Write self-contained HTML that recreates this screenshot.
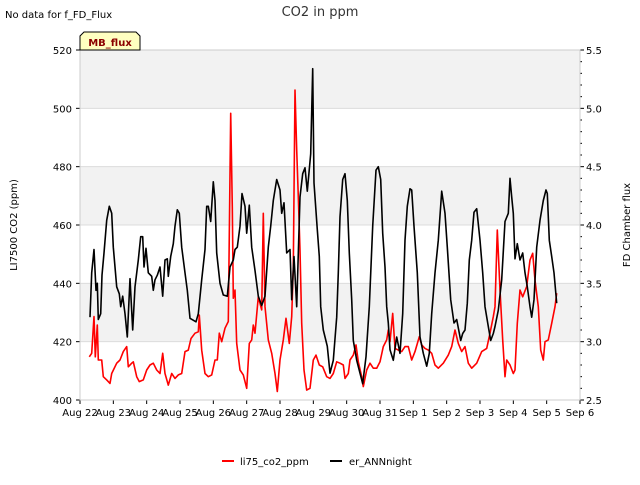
<!DOCTYPE html>
<html><head><meta charset="utf-8"><style>
body{margin:0;background:#fff;font-family:"Liberation Sans","DejaVu Sans",sans-serif}
svg text{font-family:"DejaVu Sans","Liberation Sans",sans-serif}
</style></head><body>
<svg id="chart" width="640" height="480" viewBox="0 0 640 480" xmlns="http://www.w3.org/2000/svg">
<text x="5" y="18" font-size="10">No data for f_FD_Flux</text>
<text x="320" y="16" font-size="13" fill="#333" text-anchor="middle">CO2 in ppm</text>
<g id="bands"></g>
<g id="axes"></g>
<g id="series"></g>
<g>
<path d="M80,50 L80,36 L84,32 L136,32 L140,36 L140,50 Z" fill="#ffffc0" stroke="#000" stroke-width="1"/>
<text x="110" y="46" font-size="10" font-weight="bold" fill="#8b0000" text-anchor="middle">MB_flux</text>
</g>
<text transform="translate(17,225) rotate(-90)" font-size="10" text-anchor="middle">LI7500 CO2 (ppm)</text>
<text transform="translate(630,225) rotate(-90)" font-size="10" text-anchor="middle">FD Chamber flux</text>
<g>
<g><line x1="222" y1="461" x2="234" y2="461" stroke="#f00" stroke-width="2"/><text x="240" y="465" font-size="10">li75_co2_ppm</text></g>
<g><line x1="330" y1="461" x2="342" y2="461" stroke="#000" stroke-width="2"/><text x="349" y="465" font-size="10">er_ANNnight</text></g>
</g>
</svg>
<script>
const xTickLabels=["Aug 22","Aug 23","Aug 24","Aug 25","Aug 26","Aug 27","Aug 28","Aug 29","Aug 30","Aug 31","Sep 1","Sep 2","Sep 3","Sep 4","Sep 5","Sep 6"];
const leftTicks=[400,420,440,460,480,500,520];
const rightTicks=[2.5,3.0,3.5,4.0,4.5,5.0,5.5];
const redDays=[0.28,0.35,0.42,0.46,0.52,0.55,0.65,0.70,0.80,0.90,0.95,1.10,1.20,1.30,1.40,1.45,1.55,1.60,1.70,1.78,1.90,2.00,2.10,2.20,2.30,2.40,2.48,2.55,2.65,2.75,2.85,2.95,3.05,3.15,3.25,3.33,3.45,3.55,3.58,3.65,3.75,3.85,3.95,4.05,4.12,4.18,4.25,4.35,4.45,4.52,4.57,4.60,4.65,4.70,4.80,4.90,5.00,5.08,5.15,5.20,5.25,5.35,5.45,5.50,5.55,5.65,5.75,5.85,5.92,6.00,6.10,6.18,6.28,6.35,6.40,6.45,6.50,6.55,6.60,6.65,6.72,6.80,6.90,7.00,7.08,7.18,7.28,7.40,7.50,7.60,7.70,7.80,7.90,7.95,8.05,8.10,8.20,8.28,8.35,8.45,8.50,8.60,8.70,8.80,8.90,9.00,9.10,9.20,9.25,9.30,9.38,9.45,9.55,9.65,9.75,9.85,9.95,10.05,10.18,10.25,10.35,10.45,10.55,10.65,10.75,10.90,11.05,11.15,11.25,11.35,11.45,11.55,11.65,11.75,11.90,12.05,12.20,12.30,12.40,12.45,12.52,12.60,12.68,12.75,12.80,12.90,13.00,13.05,13.12,13.20,13.28,13.40,13.50,13.58,13.65,13.75,13.82,13.90,13.95,14.05,14.15,14.25,14.30];
const redValues=[414.8,416.0,428.6,414.8,425.7,413.7,413.7,408.0,406.9,405.7,409.1,412.6,413.7,416.6,418.3,411.4,412.6,413.1,408.0,406.3,406.9,410.3,412.0,412.6,410.3,409.1,416.0,409.1,405.1,409.1,407.4,408.6,409.1,416.6,417.1,421.1,422.9,423.4,429.1,417.1,409.1,408.0,408.6,413.7,413.7,422.9,420.0,424.6,426.9,498.3,466.3,434.9,437.7,419.4,410.3,408.6,404.0,419.4,420.6,425.7,422.9,435.4,430.9,464.0,432.0,420.6,416.0,409.1,402.9,413.7,420.6,428.0,419.4,428.6,445.7,506.3,485.7,469.7,451.4,426.3,410.3,403.4,404.0,413.7,415.4,412.0,411.4,408.0,407.4,409.1,413.1,412.6,412.0,407.4,409.1,413.7,415.4,418.9,413.1,408.0,404.6,410.3,412.6,410.9,410.9,413.1,418.3,420.6,424.0,420.0,429.7,417.7,417.1,416.6,418.3,418.3,413.7,416.6,421.7,418.9,417.7,417.1,416.0,412.0,410.9,412.6,415.4,418.3,424.0,419.4,416.6,418.3,412.6,410.9,412.6,416.6,417.7,422.9,428.6,432.0,458.3,437.7,420.6,408.0,413.7,412.0,409.1,410.3,426.3,437.7,435.4,438.9,448.0,450.3,441.1,432.0,417.1,413.7,420.0,420.6,426.3,432.0,436.6];
const blackDays=[0.30,0.35,0.42,0.48,0.52,0.55,0.62,0.66,0.72,0.80,0.88,0.95,1.00,1.10,1.18,1.22,1.28,1.35,1.42,1.50,1.58,1.65,1.75,1.82,1.88,1.92,1.98,2.05,2.15,2.20,2.25,2.32,2.40,2.48,2.55,2.62,2.65,2.72,2.80,2.85,2.92,2.98,3.05,3.15,3.22,3.30,3.48,3.55,3.65,3.75,3.80,3.85,3.92,4.00,4.05,4.10,4.20,4.30,4.42,4.50,4.60,4.65,4.72,4.80,4.86,4.95,5.00,5.08,5.15,5.25,5.35,5.45,5.55,5.65,5.72,5.80,5.90,6.00,6.05,6.12,6.20,6.30,6.35,6.42,6.50,6.60,6.68,6.75,6.82,6.92,6.98,7.02,7.12,7.18,7.22,7.30,7.42,7.50,7.60,7.70,7.75,7.80,7.88,7.95,8.02,8.08,8.15,8.20,8.30,8.40,8.48,8.58,8.68,8.78,8.88,8.95,9.02,9.08,9.15,9.20,9.25,9.30,9.40,9.50,9.60,9.68,9.75,9.82,9.90,9.95,10.02,10.12,10.20,10.30,10.40,10.48,10.55,10.65,10.75,10.85,10.95,11.02,11.12,11.22,11.30,11.42,11.48,11.55,11.62,11.68,11.75,11.82,11.90,12.00,12.08,12.15,12.25,12.32,12.40,12.45,12.55,12.65,12.75,12.85,12.90,12.95,13.00,13.05,13.12,13.20,13.28,13.35,13.42,13.50,13.55,13.62,13.70,13.80,13.90,13.98,14.02,14.08,14.15,14.22,14.30];
const blackValues=[3.21,3.59,3.79,3.44,3.50,3.19,3.24,3.57,3.76,4.04,4.16,4.10,3.81,3.47,3.41,3.30,3.39,3.24,3.04,3.54,3.10,3.47,3.70,3.90,3.90,3.64,3.80,3.59,3.56,3.44,3.53,3.57,3.64,3.39,3.70,3.71,3.56,3.73,3.84,3.99,4.13,4.10,3.81,3.59,3.44,3.20,3.17,3.24,3.53,3.79,4.16,4.16,4.03,4.37,4.21,3.76,3.50,3.40,3.39,3.64,3.70,3.79,3.81,3.99,4.27,4.16,3.93,4.17,3.81,3.61,3.39,3.31,3.39,3.81,3.99,4.21,4.39,4.30,4.10,4.19,3.76,3.79,3.36,3.73,3.30,4.24,4.44,4.49,4.29,4.61,5.34,4.36,3.96,3.73,3.30,3.10,2.96,2.73,2.84,3.21,3.59,4.07,4.39,4.44,4.21,3.76,3.36,3.01,2.84,2.73,2.64,2.87,3.30,3.99,4.47,4.50,4.39,3.93,3.64,3.30,3.16,2.93,2.84,3.04,2.90,3.24,3.87,4.16,4.31,4.30,3.99,3.59,3.04,2.90,2.79,2.90,3.24,3.59,3.87,4.29,4.10,3.81,3.36,3.16,3.19,3.01,3.07,3.10,3.33,3.70,3.87,4.11,4.14,3.87,3.59,3.30,3.13,3.01,3.07,3.13,3.27,3.53,4.03,4.10,4.40,4.24,4.10,3.71,3.84,3.70,3.76,3.59,3.47,3.30,3.21,3.36,3.81,4.04,4.21,4.30,4.27,3.87,3.73,3.59,3.33];

const NS="http://www.w3.org/2000/svg";
const L=80,R=580,T=50,B=400;
function xScale(d){return L+d*(R-L)/15;}
function yLeft(v){return B-(v-400)*(B-T)/120;}
function yRight(v){return B-(v-2.5)*(B-T)/3;}
function mk(tag,attrs,parent){const e=document.createElementNS(NS,tag);for(const k in attrs)e.setAttribute(k,attrs[k]);parent.appendChild(e);return e;}
const bands=document.getElementById('bands'),axes=document.getElementById('axes'),series=document.getElementById('series');
mk('rect',{x:L,y:T,width:R-L,height:B-T,fill:'#fff'},bands);
for(let i=0;i<leftTicks.length-1;i++){
  if(i%2===1){const r=mk('rect',{x:L,y:yLeft(leftTicks[i+1]),width:R-L,height:yLeft(leftTicks[i])-yLeft(leftTicks[i+1]),fill:'#f2f2f2'},bands);
  
  }
}
leftTicks.forEach(v=>{
  const y=yLeft(v);
  mk('line',{x1:L,y1:y,x2:R,y2:y,stroke:'#dcdcdc','stroke-width':1},bands);
  mk('line',{x1:L-4,y1:y,x2:L,y2:y,stroke:'#000'},axes);
  const t=mk('text',{x:L-8,y:y+4,'font-size':10,'text-anchor':'end'},axes);
  t.textContent=v;
  
  
});
for(let k=25;k<=55;k++){
  const v=k/10,y=yRight(v),major=(k%5===0);
  mk('line',{x1:R,y1:y,x2:R+(major?4:2),y2:y,stroke:'#000'},axes);
}
rightTicks.forEach(v=>{
  const t=mk('text',{x:R+6,y:yRight(v)+4,'font-size':10},axes);
  t.textContent=v.toFixed(1);
  
  
});
xTickLabels.forEach((s,i)=>{
  const x=xScale(i);
  mk('line',{x1:x,y1:B,x2:x,y2:B+4,stroke:'#000'},axes);
  const t=mk('text',{x:x,y:B+16,'font-size':10,'text-anchor':'middle'},axes);
  t.textContent=s;
  
  
});
mk('rect',{x:L,y:T,width:R-L,height:B-T,fill:'none',stroke:'#ccc'},axes);
function path(days,vals,sc,color,name){
  const d=days.map((t,i)=>(i?'L':'M')+xScale(t).toFixed(1)+','+sc(vals[i]).toFixed(1)).join(' ');
  const p=mk('path',{d:d,fill:'none',stroke:color,'stroke-width':1.6,'stroke-linejoin':'round'},series);
  
  
}
path(redDays,redValues,yLeft,'#f00','li75-co2-line');
path(blackDays,blackValues,yRight,'#000','er-annnight-line');
</script>
</body></html>
